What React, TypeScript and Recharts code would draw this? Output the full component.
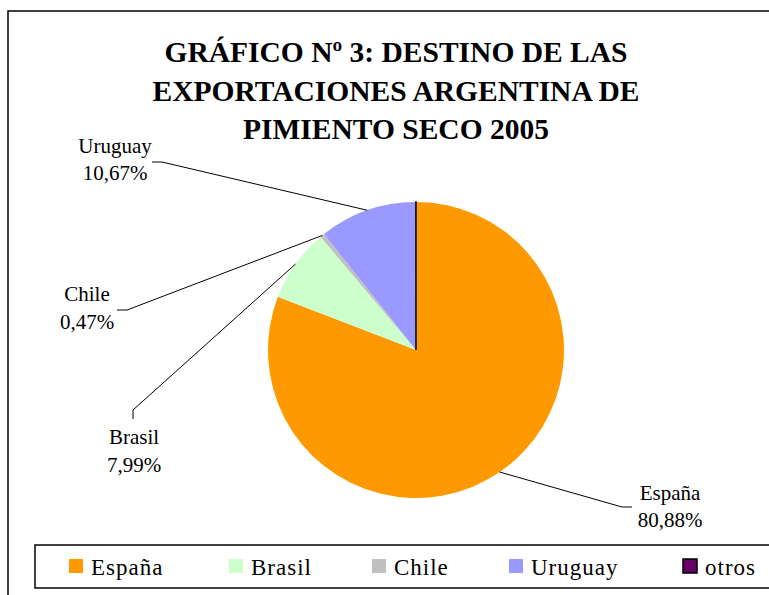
import React from "react";
import { PieChart, Pie, Cell } from "recharts";

const categories = ["España", "Brasil", "Chile", "Uruguay", "otros"];
const shares = [80.88, 7.99, 0.47, 10.67, 0.01];
const colors = ["#FF9900", "#CCFFCC", "#C0C0C0", "#9999FF", "#660066"];
const titleLines = [
  "GRÁFICO Nº 3: DESTINO DE LAS",
  "EXPORTACIONES ARGENTINA DE",
  "PIMIENTO SECO 2005",
];

const data = categories.map((name, i) => ({ name, value: shares[i] }));

const FONT = "Liberation Serif, Times New Roman, serif";
const RAD = Math.PI / 180;

// label layout relative to the pie centre (elbow, end of leader, text centre, baselines)
const labelLayout: Record<string, { ex: number; ey: number; lx: number; ly: number; tx: number; b1: number; b2: number } | null> = {
  "España": { ex: 206, ey: 157, lx: 216, ly: 157, tx: 254, b1: 150, b2: 177 },
  Uruguay: { ex: -254, ey: -188, lx: -264, ly: -188, tx: -301, b1: -197, b2: -170 },
  Chile: { ex: -289, ey: -40, lx: -299, ly: -40, tx: -329, b1: -49, b2: -21 },
  Brasil: { ex: -283, ey: 60, lx: -283, ly: 69, tx: -282, b1: 94, b2: 122 },
  otros: null,
};

const renderLabel = (props: any) => {
  const { cx, cy, midAngle, outerRadius, name, value } = props;
  const l = labelLayout[name];
  if (!l) return null;
  const sx = cx + outerRadius * Math.cos(-midAngle * RAD);
  const sy = cy + outerRadius * Math.sin(-midAngle * RAD);
  const pct = value.toFixed(2).replace(".", ",") + "%";
  return (
    <g>
      <polyline
        points={`${sx},${sy} ${cx + l.ex},${cy + l.ey} ${cx + l.lx},${cy + l.ly}`}
        fill="none"
        stroke="#000"
        strokeWidth={1}
      />
      <text x={cx + l.tx} y={cy + l.b1} textAnchor="middle" style={{ fontFamily: FONT, fontSize: 21 }} fill="#000">
        {name}
      </text>
      <text x={cx + l.tx} y={cy + l.b2} textAnchor="middle" style={{ fontFamily: FONT, fontSize: 21 }} fill="#000">
        {pct}
      </text>
    </g>
  );
};

const legendSwatchX = [69, 229, 372, 509, 683];

export default function App() {
  return (
    <div style={{ position: "fixed", left: 0, top: 0, width: 769, height: 595, overflow: "hidden", background: "#fff" }}>
      <svg width={769} height={595} style={{ position: "absolute", left: 0, top: 0 }}>
        <rect x={8} y={11} width={800} height={700} fill="#fff" stroke="#000" strokeWidth={1.5} />
        {titleLines.map((t, i) => (
          <text
            key={i}
            x={396}
            y={62 + i * 38.5}
            textAnchor="middle"
            style={{ fontFamily: FONT, fontWeight: "bold", fontSize: 29.5 }}
            fill="#000"
          >
            {t}
          </text>
        ))}
        <rect x={35} y={545} width={800} height={43} fill="#fff" stroke="#000" strokeWidth={1.5} />
        {categories.map((c, i) => (
          <g key={c}>
            <rect
              x={legendSwatchX[i]}
              y={559}
              width={14}
              height={14}
              fill={colors[i]}
              stroke={c === "otros" ? "#000" : "none"}
              strokeWidth={1.5}
            />
            <text
              x={legendSwatchX[i] + 22}
              y={575}
              style={{ fontFamily: FONT, fontSize: 23, letterSpacing: 1 }}
              fill="#000"
            >
              {c}
            </text>
          </g>
        ))}
      </svg>
      <div style={{ position: "absolute", left: 0, top: 0 }}>
        <PieChart width={769} height={595} margin={{ top: 0, right: 0, bottom: 0, left: 0 }}>
          <Pie
            data={data}
            dataKey="value"
            nameKey="name"
            cx={416}
            cy={350}
            outerRadius={148}
            startAngle={90}
            endAngle={-270}
            isAnimationActive={false}
            label={renderLabel}
            labelLine={false}
          >
            {data.map((d, i) => (
              <Cell
                key={d.name}
                fill={colors[i]}
                stroke={d.name === "otros" ? "#000" : "none"}
                strokeWidth={d.name === "otros" ? 1.5 : 0}
              />
            ))}
          </Pie>
        </PieChart>
      </div>
    </div>
  );
}
